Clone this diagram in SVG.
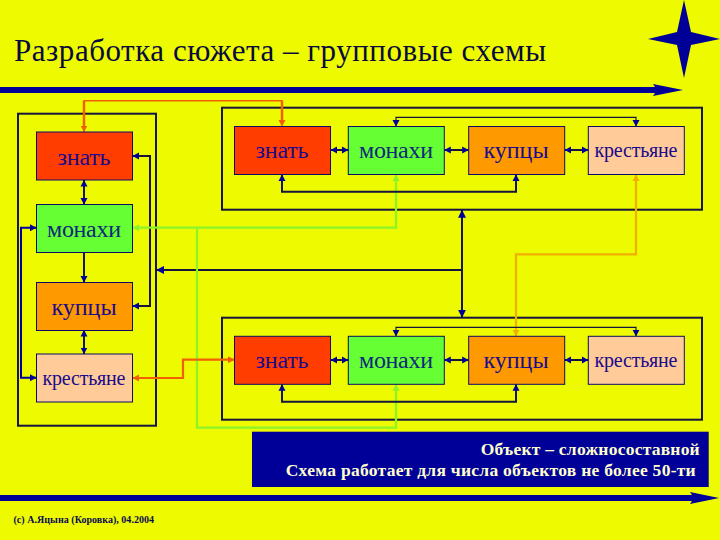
<svg xmlns="http://www.w3.org/2000/svg" width="720" height="540" viewBox="0 0 720 540">
<style>
text{font-family:"Liberation Serif","Times New Roman",serif}
.frame{fill:none;stroke:#14143c;stroke-width:2}
.node{stroke:#0a0a66;stroke-width:1}
.zn{fill:#ff3d00}.mo{fill:#66ff33}.ku{fill:#ff9900}.kr{fill:#ffcc99}
.lbl{fill:#1a0a8c;text-anchor:middle}
.big{font-size:24px}.small{font-size:20px}
.c{fill:none;stroke-linejoin:miter}
.navy{stroke:#14143c;stroke-width:2;marker-start:url(#an);marker-end:url(#an)}
.thin{stroke:#14143c;stroke-width:1.2;marker-start:url(#an);marker-end:url(#an)}
.blue{stroke:#000099;stroke-width:2;marker-start:url(#an);marker-end:url(#an)}
.grn{stroke:#8cf52a;stroke-width:2.2}
.org{stroke:#f06000;stroke-width:2.2;marker-start:url(#ao);marker-end:url(#ao)}
.yel{stroke:#f0b000;stroke-width:2.2;marker-start:url(#ay);marker-end:url(#ay)}
.cap{fill:#ffffcc;font-size:17.5px;font-weight:bold}
</style>
<defs>
<marker id="an" markerUnits="userSpaceOnUse" markerWidth="8" markerHeight="8" refX="6.5" refY="4" orient="auto-start-reverse"><path d="M0 0.5L6.5 4L0 7.5Z" fill="#000099"/></marker>
<marker id="ab" markerUnits="userSpaceOnUse" markerWidth="9" markerHeight="9" refX="8" refY="4.5" orient="auto-start-reverse"><path d="M0 0.5L8 4.5L0 8.5Z" fill="#000099"/></marker>
<marker id="ao" markerUnits="userSpaceOnUse" markerWidth="8" markerHeight="8" refX="6.5" refY="4" orient="auto-start-reverse"><path d="M0 0.5L6.5 4L0 7.5Z" fill="#f06000"/></marker>
<marker id="ay" markerUnits="userSpaceOnUse" markerWidth="8" markerHeight="8" refX="6.5" refY="4" orient="auto-start-reverse"><path d="M0 0.5L6.5 4L0 7.5Z" fill="#f0b000"/></marker>
<marker id="ag" markerUnits="userSpaceOnUse" markerWidth="8" markerHeight="8" refX="6.5" refY="4" orient="auto-start-reverse"><path d="M0 0.5L6.5 4L0 7.5Z" fill="#8cf52a"/></marker>
</defs>
<rect width="720" height="540" fill="#edfa00"/>
<text x="14" y="61" font-size="31" fill="#0a0a40" textLength="532">Разработка сюжета – групповые схемы</text>
<path d="M684 0L691 32L720 39L691 45L684 78L677 45L648 39L677 32Z" fill="#000099"/>
<path d="M0 87H655L653 84L683 90L653 96L655 93H0Z" fill="#000099"/>
<path d="M0 495H692L690 492L719 498L690 504L692 501H0Z" fill="#000099"/>

<g id="frame-left"><rect class="frame" x="18" y="113.7" width="138" height="312"/></g>
<g id="frame-top"><rect class="frame" x="222" y="107.7" width="480" height="102"/></g>
<g id="frame-bottom"><rect class="frame" x="222" y="317.7" width="480" height="102"/></g>

<g id="connectors">
<path class="c" d="M84 132V100.7H282V126.5" stroke="#f06000" stroke-width="1.5" marker-start="url(#ao)" marker-end="url(#ao)"/>
<path class="c" stroke="#f06000" stroke-width="2.5" d="M84 100.7V126"/>
<path class="c" stroke="#f06000" stroke-width="2.5" d="M282 100.7V120"/>
<path class="c navy" d="M84 180V204.5"/>
<path class="c" stroke="#14143c" stroke-width="2" marker-end="url(#an)" d="M84 252V282.5"/>
<path class="c navy" d="M84 330V354"/>
<path class="c navy" d="M132.5 156H150V306H132.5"/>
<path class="c blue" d="M36.5 227.7H21V377.7H36.5"/>
<path class="c" stroke="#14143c" stroke-width="2" marker-end="url(#ab)" d="M462 270H156"/>
<path class="c" stroke="#14143c" stroke-width="2" marker-start="url(#ab)" marker-end="url(#ab)" d="M462 209.7V317.7"/>
<path class="c grn" marker-start="url(#ag)" marker-end="url(#ag)" d="M132.5 227.7H396V174.5"/>
<path class="c grn" marker-end="url(#ag)" d="M197 227.7V427.7H396V384.3"/>
<path class="c org" d="M132.5 378H183V359.7H234.5"/>
<path class="c yel" d="M636 174.5V254.3H516V336.3"/>
<path class="c navy" d="M330.7 150H348.3"/>
<path class="c navy" d="M444.3 150H468.7"/>
<path class="c navy" d="M564.7 150H588.3"/>
<path class="c thin" d="M396 126.5V117.3H636V126.5"/>
<path class="c navy" d="M282 174.5V191.7H516V174.5"/>
<path class="c navy" d="M330.7 360H348.3"/>
<path class="c navy" d="M444.3 360H468.7"/>
<path class="c navy" d="M564.7 360H588.3"/>
<path class="c thin" d="M396 336.3V327.3H636V336.3"/>
<path class="c navy" d="M282 384.3V401.7H516V384.3"/>
</g>

<g id="left-znat"><rect class="node zn" x="36.5" y="132" width="96" height="48"/><text class="lbl big" x="84" y="165" textLength="53">знать</text></g>
<g id="left-monahi"><rect class="node mo" x="36.5" y="204.5" width="96" height="48"/><text class="lbl big" x="84" y="237" style="fill:#0a2a7a" textLength="74">монахи</text></g>
<g id="left-kuptsy"><rect class="node ku" x="36.5" y="282.5" width="96" height="48"/><text class="lbl big" x="84" y="315" textLength="65">купцы</text></g>
<g id="left-krest"><rect class="node kr" x="36.5" y="354" width="96" height="48"/><text class="lbl small" x="84" y="385" textLength="83">крестьяне</text></g>

<g id="top-znat"><rect class="node zn" x="234.5" y="126.5" width="96" height="48"/><text class="lbl big" x="282" y="158" textLength="53">знать</text></g>
<g id="top-monahi"><rect class="node mo" x="348.3" y="126.5" width="96" height="48"/><text class="lbl big" x="396" y="158" style="fill:#0a2a7a" textLength="74">монахи</text></g>
<g id="top-kuptsy"><rect class="node ku" x="468.7" y="126.5" width="96" height="48"/><text class="lbl big" x="516" y="158" textLength="65">купцы</text></g>
<g id="top-krest"><rect class="node kr" x="588.3" y="126.5" width="96" height="48"/><text class="lbl small" x="636" y="157" textLength="83">крестьяне</text></g>

<g id="bot-znat"><rect class="node zn" x="234.5" y="336.3" width="96" height="48"/><text class="lbl big" x="282" y="368" textLength="53">знать</text></g>
<g id="bot-monahi"><rect class="node mo" x="348.3" y="336.3" width="96" height="48"/><text class="lbl big" x="396" y="368" style="fill:#0a2a7a" textLength="74">монахи</text></g>
<g id="bot-kuptsy"><rect class="node ku" x="468.7" y="336.3" width="96" height="48"/><text class="lbl big" x="516" y="368" textLength="65">купцы</text></g>
<g id="bot-krest"><rect class="node kr" x="588.3" y="336.3" width="96" height="48"/><text class="lbl small" x="636" y="367" textLength="83">крестьяне</text></g>

<g id="note"><rect x="252" y="431.7" width="456.7" height="55.3" fill="#000099"/>
<text class="cap" x="480.7" y="455" textLength="219">Объект – сложносоставной</text>
<text class="cap" x="285.7" y="476" textLength="410">Схема работает для числа объектов не более 50-ти</text></g>
<text x="13.5" y="522.5" font-size="10" font-weight="bold" fill="#0a0a50" textLength="140.5">(c) А.Яцына (Коровка), 04.2004</text>
</svg>
